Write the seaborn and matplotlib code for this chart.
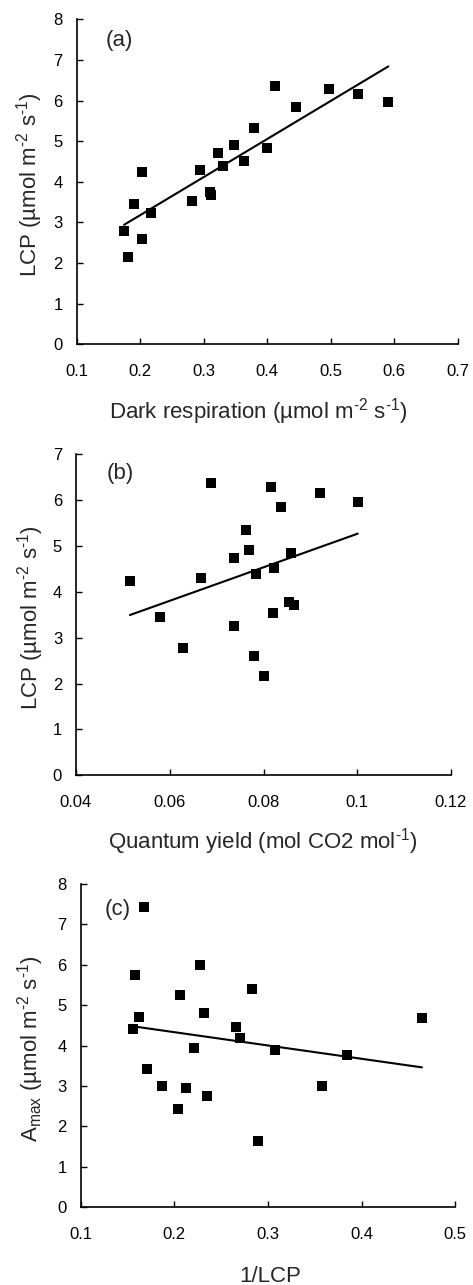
import numpy as np
import matplotlib
matplotlib.use("Agg")
import matplotlib.pyplot as plt
import seaborn as sns

# (a) LCP versus dark respiration
dark_resp = [0.1745, 0.1814, 0.1898, 0.2024, 0.2024, 0.2165, 0.2822, 0.2948,
             0.3094, 0.3115, 0.3220, 0.3299, 0.3472, 0.3640, 0.3787, 0.3997,
             0.4129, 0.4454, 0.4969, 0.5425, 0.5908]
lcp_a = [2.80, 2.14, 3.46, 4.25, 2.60, 3.22, 3.53, 4.28, 3.75, 3.68, 4.72,
         4.38, 4.90, 4.51, 5.33, 4.82, 6.36, 5.83, 6.28, 6.15, 5.96]

# (b) LCP versus quantum yield
quantum_yield = [0.0515, 0.0580, 0.0628, 0.0667, 0.0688, 0.0737, 0.0737,
                 0.0762, 0.0770, 0.0779, 0.0785, 0.0800, 0.0817, 0.0820,
                 0.0822, 0.0837, 0.0855, 0.0859, 0.0865, 0.0921, 0.1001]
lcp_b = [4.24, 3.45, 2.78, 4.31, 6.37, 4.74, 3.26, 5.35, 4.91, 2.61, 4.38,
         2.17, 6.29, 3.54, 4.53, 5.84, 3.78, 4.84, 3.71, 6.16, 5.96]

# (c) Amax versus 1/LCP
inv_lcp = [0.1680, 0.1580, 0.1562, 0.1623, 0.1705, 0.1865, 0.2036, 0.2064,
           0.2121, 0.2206, 0.2278, 0.2320, 0.2349, 0.2662, 0.2701, 0.2833,
           0.2890, 0.3078, 0.3577, 0.3847, 0.4644]
amax = [7.42, 5.74, 4.41, 4.71, 3.42, 2.99, 2.43, 5.25, 2.96, 3.94, 6.00,
        4.82, 2.76, 4.45, 4.19, 5.39, 1.64, 3.88, 2.99, 3.76, 4.68]

xticks_a = [0.1, 0.2, 0.3, 0.4, 0.5, 0.6, 0.7]
xticklabels_a = ["0.1", "0.2", "0.3", "0.4", "0.5", "0.6", "0.7"]
xticks_b = [0.04, 0.06, 0.08, 0.10, 0.12]
xticklabels_b = ["0.04", "0.06", "0.08", "0.1", "0.12"]
xticks_c = [0.1, 0.2, 0.3, 0.4, 0.5]
xticklabels_c = ["0.1", "0.2", "0.3", "0.4", "0.5"]

sns.set_style("ticks")
plt.rcParams["font.family"] = ["Liberation Sans", "DejaVu Sans"]
plt.rcParams["mathtext.fontset"] = "custom"
plt.rcParams["mathtext.rm"] = "Liberation Sans"
plt.rcParams["mathtext.it"] = "Liberation Sans:italic"
plt.rcParams["mathtext.bf"] = "Liberation Sans:bold"

fig = plt.figure(figsize=(4.73, 12.85), dpi=100)

W, H = 473.0, 1285.0


def axes_px(left, right, top, bottom):
    return fig.add_axes([left / W, (H - bottom) / H, (right - left) / W, (bottom - top) / H])


UNITS = "(µmol m$^{\\text{-2}}$ s$^{\\text{-1}}$)"
LABEL_SIZE = 16

panels = [
    dict(rect=(76.7, 457.7, 19.3, 344.3), x=dark_resp, y=lcp_a,
         xlim=(0.1, 0.7), ylim=(0, 8), xt=xticks_a, xtl=xticklabels_a,
         xlabel="Dark respiration " + UNITS,
         ylabel="LCP " + UNITS,
         tag="(a)", tagpos=(0.077, 0.936),
         xlab_pos=(0.478, -0.207), ylab_pos=(-0.123, 0.49)),
    dict(rect=(76.0, 451.0, 454.3, 775.3), x=quantum_yield, y=lcp_b,
         xlim=(0.04, 0.12), ylim=(0, 7), xt=xticks_b, xtl=xticklabels_b,
         xlabel="Quantum yield (mol CO2 mol$^{\\text{-1}}$)",
         ylabel="LCP " + UNITS,
         tag="(b)", tagpos=(0.082, 0.941),
         xlab_pos=(0.497, -0.207), ylab_pos=(-0.121, 0.49)),
    dict(rect=(80.7, 455.3, 884.0, 1207.3), x=inv_lcp, y=amax,
         xlim=(0.1, 0.5), ylim=(0, 8), xt=xticks_c, xtl=xticklabels_c,
         xlabel="1/LCP",
         ylabel="A$_{\\mathregular{max}}$ " + UNITS,
         tag="(c)", tagpos=(0.065, 0.92),
         xlab_pos=(0.505, -0.215), ylab_pos=(-0.1335, 0.49)),
]

for p in panels:
    ax = axes_px(*p["rect"])
    sns.regplot(x=np.array(p["x"]), y=np.array(p["y"]), ax=ax, ci=None,
                marker="s", color="black", truncate=True,
                scatter_kws=dict(s=60, alpha=1, linewidths=0, zorder=3),
                line_kws=dict(lw=1.5, color="black", zorder=2))
    ax.set_xlim(*p["xlim"])
    ax.set_ylim(*p["ylim"])
    ax.set_xticks(p["xt"])
    ax.set_xticklabels(p["xtl"])
    ax.set_yticks(range(int(p["ylim"][1]) + 1))
    ax.tick_params(axis="both", direction="in", length=4, width=1,
                   labelsize=12, colors="black")
    ax.tick_params(axis="x", pad=14)
    ax.tick_params(axis="y", pad=10)
    sns.despine(ax=ax)
    for s in ("left", "bottom"):
        ax.spines[s].set_linewidth(1.2)
        ax.spines[s].set_color("black")
    ax.set_xlabel(p["xlabel"], fontsize=LABEL_SIZE, va="center")
    ax.set_ylabel(p["ylabel"], fontsize=LABEL_SIZE, va="center")
    ax.xaxis.set_label_coords(*p["xlab_pos"])
    ax.yaxis.set_label_coords(*p["ylab_pos"])
    ax.text(p["tagpos"][0], p["tagpos"][1], p["tag"], transform=ax.transAxes,
            fontsize=LABEL_SIZE, ha="left", va="center")

fig.savefig("out.png", dpi=100)
